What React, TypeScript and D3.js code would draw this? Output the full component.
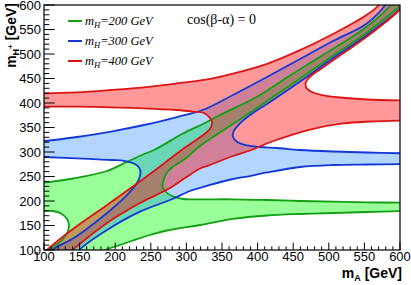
import React from 'react';
import * as d3 from 'd3';

type P = [number, number];

// boundaries, [mA, mH+] in GeV
// mH = 200 GeV
const greenUpper: P[] = [[97, 237.8], [100, 237.8], [140.7, 245.9], [188.5, 261.2], [216.6, 280.2], [237.6, 293.9], [255.9, 305.1], [295.2, 337.8], [324.7, 358.2], [347.2, 375.5], [399.2, 412.9], [445.5, 456.1], [491.9, 498], [550.8, 553.1], [584.6, 595.9], [590.2, 606]];
const greenLeft: P[] = [[97, 179.6], [100, 179.6], [112.6, 179.6], [123.9, 174.5], [132.3, 163.3], [135.1, 149], [133, 136.7], [126.7, 122.4], [116.9, 110.2], [107, 101], [104.2, 95.9]];
const greenLower: P[] = [[178.7, 93.9], [185.7, 100], [206.7, 110.2], [225, 119.4], [248.9, 130.6], [272.8, 139.8], [319.1, 151], [365.4, 163.3], [413.2, 170.4], [459.6, 173.5], [505.9, 175.5], [553.7, 177.6], [603, 179.6]];
const greenRight: P[] = [[603, 196.5], [553.7, 197.3], [505.9, 198.6], [459.6, 200], [413.2, 202], [365.4, 203.5], [319.1, 203.5], [295.2, 204.1], [279.8, 210.2], [269.9, 220.4], [266.4, 230.6], [268.5, 244.9], [272.8, 258.2], [281.2, 270], [298, 285.7], [319.1, 312.2], [365.4, 357.1], [413.2, 404.1], [456.7, 447], [504.1, 494.9], [550.8, 540.8], [594.4, 590.8], [610, 610]];

// mH = 300 GeV
const blueUpper: P[] = [[97, 322.4], [100, 322.4], [146.3, 330.6], [194.1, 341.8], [240.4, 355.1], [286.8, 371.4], [324.7, 386.7], [365.4, 416.3], [413.2, 453.1], [459.6, 489.8], [505.9, 526.5], [550.8, 559.8], [576.1, 593.9], [581.7, 606]];
const blueLeft: P[] = [[97, 289.8], [100, 289.8], [146.3, 287.1], [194.1, 283.7], [213.8, 281.6], [226.4, 276.5], [233.4, 268.4], [235.5, 257.1], [230.6, 236.7], [216.6, 212.2], [188.5, 175.5], [164.6, 148], [140.7, 123.5], [112.6, 101.4], [109.8, 95.9]];
const blueLower: P[] = [[147.8, 95.9], [150.6, 101.4], [188.5, 140.8], [234.8, 178.2], [277, 202], [305, 220.4], [333.1, 232.7], [365.4, 244.9], [389.3, 251], [413.2, 258.2], [459.6, 269.4], [505.9, 273.5], [553.7, 274.5], [603, 275.5]];
const blueRight: P[] = [[603, 297.3], [553.7, 299], [505.9, 301], [459.6, 304.1], [427.2, 308.2], [403.4, 310.2], [385.1, 313.3], [371.1, 321], [365.4, 331.2], [366.2, 341.8], [375.3, 358.6], [393.5, 379.6], [413.2, 398], [456.7, 440.8], [504.1, 489.8], [550.8, 535.7], [597.2, 587.8], [610, 608]];

// mH = 400 GeV
const redUpper: P[] = [[97, 419.8], [100, 419.8], [146.3, 421.8], [194.1, 426.5], [240.4, 432], [286.8, 440], [324.7, 447], [365.4, 460], [413.2, 480], [459.6, 508], [505.9, 540.8], [550.8, 577.6], [569, 598], [572, 606]];
const redLeft: P[] = [[97, 392.4], [100, 392.4], [146.3, 392.4], [194.1, 391.2], [240.4, 389.2], [286.8, 385.7], [310.7, 382.2], [324.7, 379.6], [333.1, 369.4], [336, 361.2], [334.6, 351], [328.9, 340.8], [295.2, 306.1], [248.9, 255.1], [188.5, 191.8], [140.7, 142.9], [105.6, 102], [101.4, 95.9]];
const redLower: P[] = [[136.5, 95.9], [188.5, 155.1], [234.8, 195.9], [277, 226.5], [298, 246.9], [319.1, 266.3], [333.1, 273.5], [365.4, 291.8], [389.3, 303.1], [420.2, 321.4], [473.6, 345.9], [519.9, 358.2], [557.9, 362.2], [603, 364.3]];
const redRight: P[] = [[603, 405.1], [553.7, 407.1], [515.7, 411.2], [490.4, 416.3], [476.4, 422.4], [468.7, 430.6], [467.3, 438.8], [469.4, 447], [476.4, 457.1], [487.6, 468.4], [504.5, 485.7], [527, 508.2], [550.8, 532.7], [574.7, 559.2], [597.2, 586.7], [610, 606]];

const massLabels = ['200', '300', '400'];
const lineColors = ['#12a012', '#1238d8', '#dc1414'];
const fillColors = ['#00ff00', '#0078ff', '#ff0000'];
const fillOpacity = [0.4, 0.3, 0.4];
const axisTicks = d3.range(100, 601, 50);
const minorTicks = d3.range(100, 601, 10);

const regions = [
  { upper: greenUpper, left: greenLeft, lower: greenLower, right: greenRight },
  { upper: blueUpper, left: blueLeft, lower: blueLower, right: blueRight },
  { upper: redUpper, left: redLeft, lower: redLower, right: redRight },
];

const W = 411;
const H = 285;
const x = d3.scaleLinear().domain([100, 600]).range([44, 400]);
const y = d3.scaleLinear().domain([100, 600]).range([250, 5]);

const curve = d3.line<P>()
  .x(d => x(d[0]))
  .y(d => y(d[1]))
  .curve(d3.curveCatmullRom.alpha(0.5));

// one closed outline: left hole edge, lower branch, right hole edge, upper branch back
function regionPath(r: typeof regions[number]) {
  const parts = [r.left, r.lower, r.right, r.upper.slice().reverse()];
  return parts.map((p, i) => {
    const s = curve(p) || '';
    return i === 0 ? s : 'L' + s.slice(1);
  }).join('') + 'Z';
}

export default function App() {
  const sans = 'Liberation Sans, Arial, Helvetica, sans-serif';
  const serif = 'Liberation Serif, Times New Roman, serif';
  return (
    <svg width={W} height={H} style={{ position: 'absolute', left: 0, top: 0, background: '#fff' }}>
      <defs>
        <clipPath id="plot">
          <rect x={x(100)} y={y(600)} width={x(600) - x(100)} height={y(100) - y(600)} />
        </clipPath>
      </defs>
      <rect x={0} y={0} width={W} height={H} fill="#fff" />

      <g clipPath="url(#plot)">
        {regions.map((r, i) => (
          <path key={'f' + i} d={regionPath(r)} fill={fillColors[i]} fillOpacity={fillOpacity[i]} stroke="none" />
        ))}
        {regions.map((r, i) => (
          <g key={'l' + i} fill="none" stroke={lineColors[i]} strokeWidth={1.8} strokeLinejoin="round">
            <path d={curve(r.upper) || ''} />
            <path d={curve(r.left) || ''} />
            <path d={curve(r.lower) || ''} />
            <path d={curve(r.right) || ''} />
          </g>
        ))}
      </g>

      {/* frame */}
      <rect x={x(100)} y={y(600)} width={x(600) - x(100)} height={y(100) - y(600)} fill="none" stroke="#000" strokeWidth={1.2} />

      {/* ticks */}
      <g stroke="#000" strokeWidth={1}>
        {minorTicks.map(v => {
          const major = v % 50 === 0;
          return (
            <g key={'t' + v}>
              <line x1={x(v)} x2={x(v)} y1={y(100)} y2={y(100) - (major ? 7.4 : 3.7)} />
              <line x1={x(100)} x2={x(100) + (major ? 10.7 : 5.3)} y1={y(v)} y2={y(v)} />
            </g>
          );
        })}
      </g>

      <g fontFamily={sans} fontSize={13} fill="#000">
        {axisTicks.map(v => (
          <text key={'xl' + v} x={x(v)} y={261} textAnchor="middle">{v}</text>
        ))}
        {axisTicks.map(v => (
          <text key={'yl' + v} x={41} y={y(v)} dy="0.35em" textAnchor="end">{v}</text>
        ))}
      </g>

      {/* axis titles */}
      <text x={402} y={278} textAnchor="end" fontFamily={sans} fontSize={14} fontWeight="bold">
        m<tspan dy={3} fontSize={9}>A</tspan><tspan dy={-3}> [GeV]</tspan>
      </text>
      <text transform="translate(16,3) rotate(-90)" textAnchor="end" fontFamily={sans} fontSize={14} fontWeight="bold">
        m<tspan dy={3} fontSize={9}>H</tspan><tspan dy={-6} fontSize={8}>+</tspan><tspan dy={3}> [GeV]</tspan>
      </text>

      {/* legend */}
      {massLabels.map((m, i) => (
        <g key={'lg' + m}>
          <line x1={68} x2={82} y1={21 + i * 20} y2={21 + i * 20} stroke={lineColors[i]} strokeWidth={2} />
          <text x={85} y={25 + i * 20} fontFamily={serif} fontStyle="italic" fontSize={12.5}>
            m<tspan dy={2.5} fontSize={8.5}>H</tspan><tspan dy={-2.5}>={m} GeV</tspan>
          </text>
        </g>
      ))}
      <text x={187} y={24} fontFamily={serif} fontSize={14}>cos(β-α) = 0</text>
    </svg>
  );
}
